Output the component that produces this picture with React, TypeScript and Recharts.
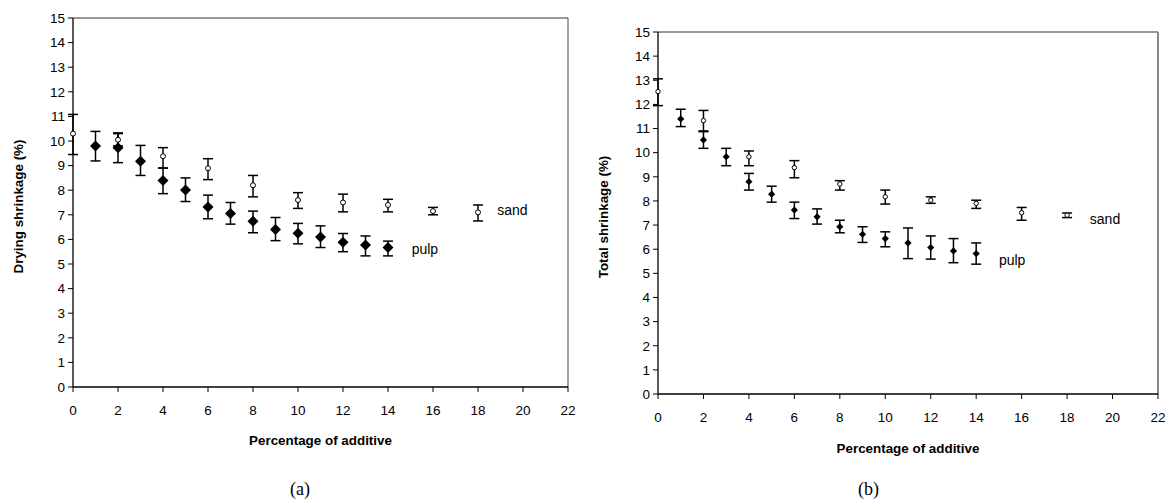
import React from "react";
import {
  ScatterChart,
  Scatter,
  XAxis,
  YAxis,
  ErrorBar,
  ReferenceLine,
  ReferenceDot,
} from "recharts";

const FONT = 'Arial, "Liberation Sans", sans-serif';

const xTicks = [0, 2, 4, 6, 8, 10, 12, 14, 16, 18, 20, 22];
const yTicks = [0, 1, 2, 3, 4, 5, 6, 7, 8, 9, 10, 11, 12, 13, 14, 15];

// (a) drying shrinkage
const dryPulpX = [1, 2, 3, 4, 5, 6, 7, 8, 9, 10, 11, 12, 13, 14];
const dryPulpY = [9.8, 9.73, 9.18, 8.39, 8.01, 7.32, 7.05, 6.74, 6.4, 6.25, 6.1, 5.88, 5.77, 5.67];
const dryPulpLo = [9.19, 9.12, 8.6, 7.86, 7.54, 6.84, 6.62, 6.27, 5.95, 5.82, 5.67, 5.5, 5.33, 5.33];
const dryPulpHi = [10.39, 10.33, 9.82, 8.9, 8.5, 7.8, 7.5, 7.15, 6.89, 6.65, 6.55, 6.24, 6.14, 5.93];

const drySandX = [0, 2, 4, 6, 8, 10, 12, 14, 16, 18];
const drySandY = [10.3, 10.05, 9.38, 8.89, 8.2, 7.6, 7.5, 7.4, 7.15, 7.1];
const drySandLo = [9.45, 9.8, 8.9, 8.43, 7.73, 7.26, 7.12, 7.12, 7.0, 6.75];
const drySandHi = [11.08, 10.3, 9.73, 9.28, 8.6, 7.9, 7.84, 7.63, 7.3, 7.4];

// (b) total shrinkage
const totPulpX = [1, 2, 3, 4, 5, 6, 7, 8, 9, 10, 11, 12, 13, 14];
const totPulpY = [11.4, 10.53, 9.83, 8.8, 8.28, 7.62, 7.34, 6.93, 6.62, 6.44, 6.26, 6.07, 5.93, 5.82];
const totPulpLo = [11.08, 10.18, 9.46, 8.45, 7.95, 7.27, 7.04, 6.68, 6.28, 6.1, 5.61, 5.59, 5.44, 5.38];
const totPulpHi = [11.8, 10.9, 10.18, 9.14, 8.61, 7.95, 7.67, 7.2, 6.93, 6.72, 6.88, 6.55, 6.44, 6.26];

const totSandX = [0, 2, 4, 6, 8, 10, 12, 14, 16, 18];
const totSandY = [12.53, 11.33, 9.83, 9.38, 8.7, 8.17, 8.03, 7.9, 7.51, 7.41];
const totSandLo = [11.95, 10.87, 9.46, 8.96, 8.45, 7.87, 7.9, 7.69, 7.2, 7.31];
const totSandHi = [13.06, 11.75, 10.07, 9.67, 8.84, 8.45, 8.17, 8.03, 7.73, 7.5];

// series labels [x, y] in data units (text start)
const dryLabelSand = [18.85, 7.2];
const dryLabelPulp = [15.05, 5.6];
const totLabelSand = [19.0, 7.27];
const totLabelPulp = [15.0, 5.55];

function rows(xs: number[], ys: number[], lo: number[], hi: number[]) {
  return xs.map((x, i) => ({ x, y: ys[i], err: [ys[i] - lo[i], hi[i] - ys[i]] }));
}

const diamond = (s: number) => (props: any) => {
  const { cx, cy } = props;
  return (
    <path
      d={`M${cx},${cy - s}L${cx + s},${cy}L${cx},${cy + s}L${cx - s},${cy}Z`}
      fill="#000"
    />
  );
};

const openCircle = (r: number) => (props: any) => {
  const { cx, cy } = props;
  return <circle cx={cx} cy={cy} r={r} fill="#fff" stroke="#000" strokeWidth={1} />;
};

interface PanelProps {
  left: number;
  width: number;
  height: number;
  margin: { top: number; right: number; left: number; bottom: number };
  yAxisWidth: number;
  xAxisHeight: number;
  yTitle: string;
  yTitleDx: number;
  yTitleDy: number;
  xTitleOffset: number;
  pulp: Array<{ x: number; y: number; err: number[] }>;
  sand: Array<{ x: number; y: number; err: number[] }>;
  diamondSize: number;
  circleR: number;
  sandLabel: number[];
  pulpLabel: number[];
  rightBorder: string;
  rightBorderWidth: number;
  errWidth: number;
}

function Panel(p: PanelProps) {
  const tickStyle = { fontSize: 13.5, fill: "#000", fontFamily: FONT };
  const titleStyle = { fontSize: 13.4, fontWeight: "bold", fill: "#000", fontFamily: FONT };
  const textStyle = { fontSize: 14, fill: "#000", fontFamily: FONT };
  return (
    <div style={{ position: "absolute", left: p.left, top: 0 }}>
      <ScatterChart
        width={p.width}
        height={p.height}
        margin={p.margin}
        style={{ fontFamily: FONT }}
      >
        <XAxis
          type="number"
          dataKey="x"
          domain={[0, 22]}
          ticks={xTicks}
          interval={0}
          tick={tickStyle}
          tickSize={5}
          tickMargin={13}
          axisLine={{ stroke: "#000", strokeWidth: 1.3 }}
          tickLine={{ stroke: "#000" }}
          height={p.xAxisHeight}
          label={{
            value: "Percentage of additive",
            position: "insideBottom",
            offset: p.xTitleOffset,
            style: titleStyle,
          }}
        />
        <YAxis
          type="number"
          dataKey="y"
          domain={[0, 15]}
          ticks={yTicks}
          interval={0}
          tick={tickStyle}
          tickSize={5}
          tickMargin={3}
          axisLine={{ stroke: "#000", strokeWidth: 1.3 }}
          tickLine={{ stroke: "#000" }}
          width={p.yAxisWidth}
          label={{
            value: p.yTitle,
            angle: -90,
            position: "center",
            dx: p.yTitleDx,
            dy: p.yTitleDy,
            style: { ...titleStyle, textAnchor: "middle" },
          }}
        />
        <ReferenceLine y={15} stroke="#333" strokeWidth={1} />
        <ReferenceLine x={22} stroke={p.rightBorder} strokeWidth={p.rightBorderWidth} />
        <Scatter
          data={p.pulp}
          isAnimationActive={false}
          shape={diamond(p.diamondSize)}
        >
          <ErrorBar
            dataKey="err"
            direction="y"
            width={p.errWidth}
            stroke="#000"
            strokeWidth={1.5}
            isAnimationActive={false}
          />
        </Scatter>
        <Scatter
          data={p.sand}
          isAnimationActive={false}
          shape={openCircle(p.circleR)}
        >
          <ErrorBar
            dataKey="err"
            direction="y"
            width={p.errWidth}
            stroke="#000"
            strokeWidth={1.5}
            isAnimationActive={false}
          />
        </Scatter>
        <ReferenceDot
          x={p.sandLabel[0]}
          y={p.sandLabel[1]}
          r={0}
          stroke="none"
          fill="none"
          label={{ value: "sand", position: "right", offset: 0, style: textStyle }}
        />
        <ReferenceDot
          x={p.pulpLabel[0]}
          y={p.pulpLabel[1]}
          r={0}
          stroke="none"
          fill="none"
          label={{ value: "pulp", position: "right", offset: 0, style: textStyle }}
        />
      </ScatterChart>
    </div>
  );
}

const captionStyle: React.CSSProperties = {
  position: "absolute",
  top: 478,
  fontFamily: '"Times New Roman", "Liberation Serif", serif',
  fontSize: 18,
  color: "#000",
  lineHeight: "22px",
};

export default function App() {
  return (
    <div
      style={{
        position: "absolute",
        left: 0,
        top: 0,
        width: 1175,
        height: 504,
        background: "#fff",
        overflow: "hidden",
      }}
    >
      <Panel
        left={0}
        width={590}
        height={470}
        margin={{ top: 18, right: 22, left: 0, bottom: 24 }}
        yAxisWidth={73}
        xAxisHeight={59}
        yTitle="Drying shrinkage (%)"
        yTitleDx={-18}
        yTitleDy={4}
        xTitleOffset={1}
        pulp={rows(dryPulpX, dryPulpY, dryPulpLo, dryPulpHi)}
        sand={rows(drySandX, drySandY, drySandLo, drySandHi)}
        diamondSize={5.5}
        circleR={2.5}
        sandLabel={dryLabelSand}
        pulpLabel={dryLabelPulp}
        rightBorder="#444"
        rightBorderWidth={1}
        errWidth={5}
      />
      <Panel
        left={580}
        width={595}
        height={480}
        margin={{ top: 32, right: 17, left: 0, bottom: 24 }}
        yAxisWidth={78}
        xAxisHeight={62}
        yTitle="Total shrinkage (%)"
        yTitleDx={-16}
        yTitleDy={4}
        xTitleOffset={3}
        pulp={rows(totPulpX, totPulpY, totPulpLo, totPulpHi)}
        sand={rows(totSandX, totSandY, totSandLo, totSandHi)}
        diamondSize={3.6}
        circleR={2.2}
        sandLabel={totLabelSand}
        pulpLabel={totLabelPulp}
        rightBorder="#888"
        rightBorderWidth={2}
        errWidth={5}
      />
      <div style={{ ...captionStyle, left: 290 }}>(a)</div>
      <div style={{ ...captionStyle, left: 858 }}>(b)</div>
    </div>
  );
}
